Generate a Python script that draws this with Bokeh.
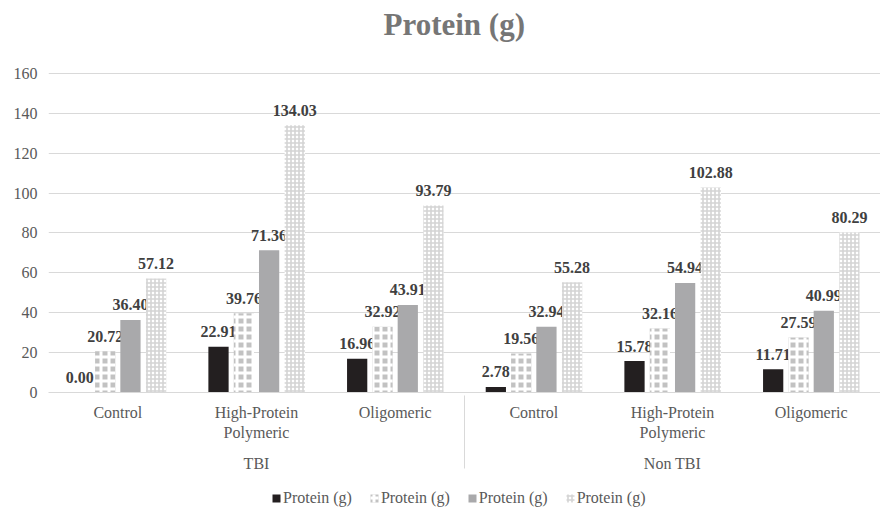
from bokeh.plotting import figure
from bokeh.layouts import column
from bokeh.models import (ColumnDataSource, FactorRange, FixedTicker, Legend, LegendItem,
                          Range1d)
from bokeh.transform import dodge
from bokeh.core.properties import value
from bokeh.embed import file_html
from bokeh.resources import INLINE

groups = ["TBI", "Non TBI"]
subgroups = ["Control", "High-Protein\nPolymeric", "Oligomeric"]
series_names = ["Protein (g)", "Protein (g)", "Protein (g)", "Protein (g)"]

s1 = [0.00, 22.91, 16.96, 2.78, 15.78, 11.71]
s2 = [20.72, 39.76, 32.92, 19.56, 32.16, 27.59]
s3 = [36.40, 71.36, 43.91, 32.94, 54.94, 40.99]
s4 = [57.12, 134.03, 93.79, 55.28, 102.88, 80.29]
y_ticks = [0, 20, 40, 60, 80, 100, 120, 140, 160]

factors = [(g, s) for g in groups for s in subgroups]

FONT = "Liberation Serif"

p = figure(frame_width=832, frame_height=320, output_backend="svg", toolbar_location=None,
           x_range=FactorRange(*factors, group_padding=0, range_padding=0),
           y_range=Range1d(0, 160.5),
           min_border_left=48, min_border_right=0, min_border_top=0, min_border_bottom=78)
p.outline_line_color = None

src = ColumnDataSource(dict(x=factors, s1=s1, s2=s2, s3=s3, s4=s4,
                            l1=["%.2f" % v for v in s1], l2=["%.2f" % v for v in s2],
                            l3=["%.2f" % v for v in s3], l4=["%.2f" % v for v in s4]))

offsets = [-0.274, -0.091, 0.091, 0.276]
bw = 0.146
styles = [
    dict(fill_color="#231f20", line_color=None),
    dict(fill_color="#c2c2c2", line_color=None, hatch_pattern="+", hatch_color="#ffffff",
         hatch_weight=3, hatch_scale=8),
    dict(fill_color="#a9a9ab", line_color=None),
    dict(fill_color="#ffffff", line_color=None, hatch_pattern="+", hatch_color="#d4d4d4",
         hatch_weight=1.6, hatch_scale=4),
]

for i in range(4):
    p.vbar(x=dodge("x", offsets[i], range=p.x_range), top="s%d" % (i + 1), width=bw,
           source=src, **styles[i])
    p.text(x=dodge("x", offsets[i], range=p.x_range), y="s%d" % (i + 1), text="l%d" % (i + 1),
           source=src, y_offset=-15, text_align="center", text_baseline="alphabetic",
           text_font=value(FONT), text_font_style="bold", text_font_size="16px",
           text_color="#404040")

p.title.text = "Protein (g)"
p.title.align = "left"
p.title.offset = 335
p.title.text_font = FONT
p.title.text_font_size = "31px"
p.title.text_font_style = "bold"
p.title.text_color = "#767676"
p.title.standoff = 0
try:
    p.title.padding = dict(top=4, right=0, bottom=31, left=0)
except Exception:
    p.title.standoff = 35

p.yaxis.ticker = FixedTicker(ticks=y_ticks)
p.yaxis.axis_line_color = None
p.yaxis.major_tick_line_color = None
p.yaxis.minor_tick_line_color = None
p.yaxis.major_tick_out = 0
p.yaxis.major_tick_in = 0
p.yaxis.major_label_text_font = FONT
p.yaxis.major_label_text_font_size = "16px"
p.yaxis.major_label_text_color = "#595959"
p.yaxis.major_label_standoff = 11

p.ygrid.grid_line_color = "#d9d9d9"
p.ygrid.grid_line_width = 1
p.xgrid.grid_line_color = None

xa = p.xaxis[0]
xa.axis_line_color = "#d9d9d9"
xa.major_tick_line_color = None
xa.minor_tick_line_color = None
xa.major_tick_out = 0
xa.major_tick_in = 0
xa.major_label_standoff = 11
xa.major_label_text_font = FONT
xa.major_label_text_font_size = "16px"
xa.major_label_text_color = "#595959"
xa.group_text_font = FONT
xa.group_text_font_size = "16px"
xa.group_text_color = "#595959"
xa.group_text_font_style = "normal"
xa.group_label_orientation = "horizontal"
xa.major_label_orientation = "horizontal"
xa.separator_line_color = "#d9d9d9"
xa.separator_line_width = 1

# legend strip under the chart; its proxy renderers share the bar styles and
# have zero height so that they draw nothing themselves
lf = figure(width=880, height=35, output_backend="svg", toolbar_location=None,
            x_range=Range1d(0, 1), y_range=Range1d(0, 1),
            x_axis_type=None, y_axis_type=None,
            min_border_left=0, min_border_right=0, min_border_top=0, min_border_bottom=0)
lf.outline_line_color = None
items = []
for i in range(4):
    r = lf.vbar(x=[0.5], top=[0], bottom=[0], width=0.01, **styles[i])
    items.append(LegendItem(label=series_names[i], renderers=[r]))
legend = Legend(items=items, orientation="horizontal", location=(223, 2),
                glyph_width=10, glyph_height=10, label_standoff=2, spacing=17,
                label_text_font=FONT, label_text_font_size="16px", label_text_color="#595959",
                border_line_color=None, background_fill_alpha=0, padding=0, margin=0,
                label_height=14)
lf.add_layout(legend, "center")

layout = column(p, lf, spacing=0)
open("out.html", "w").write(file_html(layout, INLINE))
